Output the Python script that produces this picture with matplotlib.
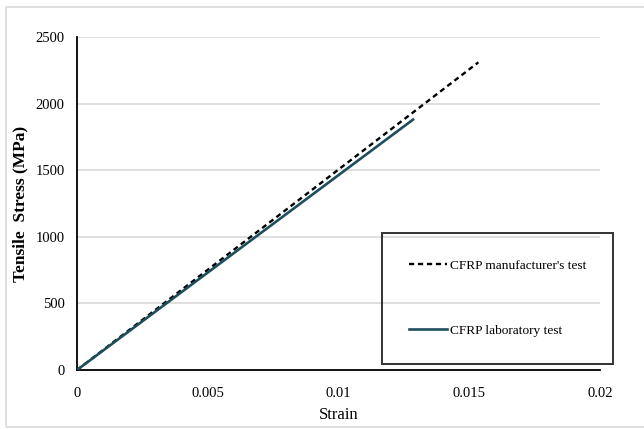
import matplotlib
matplotlib.use("Agg")
import matplotlib.pyplot as plt
from matplotlib.patches import Rectangle

plt.rcParams["font.family"] = ["Liberation Serif", "DejaVu Serif"]

# stress-strain readings for the CFRP sheets
strain_manufacturer = [0, 0.01535]
stress_manufacturer = [0, 2310]
strain_lab = [0, 0.01285]
stress_lab = [0, 1880]

x_ticks = [0, 0.005, 0.01, 0.015, 0.02]
x_tick_labels = ["0", "0.005", "0.01", "0.015", "0.02"]
y_ticks = [0, 500, 1000, 1500, 2000, 2500]

fig = plt.figure(figsize=(6.44, 4.29), dpi=100)
ax = fig.add_axes([77 / 644, 1 - 370 / 429, 523 / 644, 333 / 429])

# light frame around the whole chart
fig.patches.append(Rectangle((6 / 644, 2 / 429), 1.0, 1 - 9 / 429,
                             transform=fig.transFigure, fill=False,
                             edgecolor="#d9d9d9", linewidth=1.2))

ax.plot(strain_manufacturer, stress_manufacturer, color="black", linestyle=(0, (2.2, 1.6)),
        linewidth=1.7, label="CFRP manufacturer's test", zorder=3)
ax.plot(strain_lab, stress_lab, color="#1d4e5e", linewidth=1.9,
        label="CFRP laboratory test", zorder=4)

ax.set_xlim(0, 0.02)
ax.set_ylim(0, 2500)
ax.set_xticks(x_ticks)
ax.set_xticklabels(x_tick_labels)
ax.set_yticks(y_ticks)
ax.tick_params(length=0, labelsize=10.5, pad=9)
ax.tick_params(axis="x", pad=12)

ax.grid(axis="y", color="#d9d9d9", linewidth=1.2)
ax.set_axisbelow(True)
for side in ["top", "right"]:
    ax.spines[side].set_visible(False)
for side in ["left", "bottom"]:
    ax.spines[side].set_linewidth(1.3)
    ax.spines[side].set_color("black")

ax.set_xlabel("Strain", fontsize=12, labelpad=5)
ax.set_ylabel("Tensile  Stress (MPa)", fontsize=12.5, fontweight="bold")
ax.yaxis.set_label_coords(-49 / 523, 0.5)

leg = ax.legend(loc="upper left", bbox_to_anchor=(382 / 644, 1 - 233 / 429),
                bbox_transform=fig.transFigure, fontsize=9.6, frameon=True,
                fancybox=False, facecolor="none", edgecolor="black", borderpad=2.0,
                labelspacing=3.95, handlelength=2.9, handletextpad=0.2,
                borderaxespad=0)
leg.get_frame().set_linewidth(1.4)
leg.set_zorder(5)

fig.savefig("out.png", dpi=100)
